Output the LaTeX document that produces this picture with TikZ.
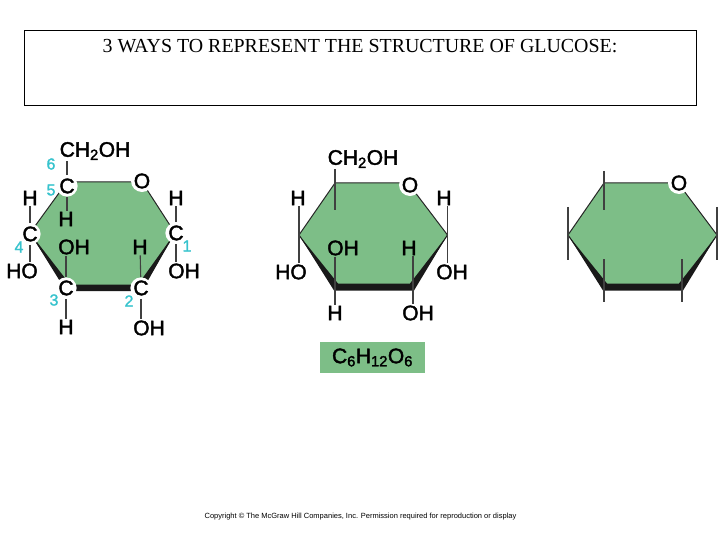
\documentclass[tikz,border=0pt]{standalone}
\usepackage{fontspec}
\setmainfont{Liberation Sans}
\newfontfamily\serifcaps{Liberation Serif}
\newfontfamily\chemfont[FakeBold=2]{Liberation Sans}
\newfontfamily\numfont[FakeBold=1.5]{Liberation Sans}
\definecolor{ringgreen}{RGB}{125,190,135}
\definecolor{numcyan}{RGB}{55,195,205}
\tikzset{
	atom/.style={font=\chemfont\fontsize{21}{21}\selectfont, inner sep=1pt},
	ringatom/.style={atom, circle, fill=white, inner sep=0pt, minimum size=19pt},
	num/.style={font=\numfont\fontsize{16}{16}\selectfont, text=numcyan, inner sep=0pt},
	ring/.style={fill=ringgreen, draw=black!85, line width=1pt},
	band/.style={fill=black!90},
	bond/.style={draw=black!75, line width=1.1pt}
}
\begin{document}
\begin{tikzpicture}[x=1pt, y=-1pt]
	\useasboundingbox (0,0) rectangle (720,540);
	% title box
	\node[draw, line width=0.8pt, minimum width=672pt, minimum height=75pt, inner sep=0pt](Box) at (360,67.5){};
	\node[font=\serifcaps\fontsize{19.9}{20}\selectfont, inner sep=0pt](Title) at (360,46){3 WAYS TO REPRESENT THE STRUCTURE OF GLUCOSE:};

	% first ring, numbered carbons
	\fill[ring] (67,182) -- (142,182) -- (175,233) -- (141,288) -- (67,288) -- (30,233) -- cycle;
	\fill[band] (30,233) -- (66,291) -- (142,291) -- (175,233) -- (138,284.5) -- (70,284.5) -- cycle;
	\node[ringatom](C5) at (67,186){C};
	\node[ringatom](O1) at (142,181){O};
	\node[ringatom](C1) at (176,233){C};
	\node[ringatom](C2) at (141,288){C};
	\node[ringatom](C3) at (66,288){C};
	\node[ringatom](C4) at (30,234){C};
	\node[atom](CH1) at (95,151){CH\textsubscript{2}OH};
	\node[atom](H5) at (66,219){H};
	\node[atom](H4) at (30,198){H};
	\node[atom](HO4) at (22,271){HO};
	\node[atom](OH3) at (74,247){OH};
	\node[atom](H3) at (66,327){H};
	\node[atom](H2) at (140,247){H};
	\node[atom](OH2) at (149,328){OH};
	\node[atom](H1) at (176,198){H};
	\node[atom](OH1) at (184,271){OH};
	\node[num](N6) at (51,164){6};
	\node[num](N5) at (51,190){5};
	\node[num](N4) at (19,247){4};
	\node[num](N3) at (54,300){3};
	\node[num](N2) at (129,301){2};
	\node[num](N1) at (187,246){1};
	\draw[bond] (C5) -- (C5 |- CH1.south);
	\draw[bond] (C5) -- (C5 |- H5.north);
	\draw[bond] (C4) -- (C4 |- H4.south);
	\draw[bond] (C4) -- (C4 |- HO4.north);
	\draw[bond] (C3) -- (C3 |- OH3.south);
	\draw[bond] (C3) -- (H3);
	\draw[bond] (C2) -- (H2);
	\draw[bond] (C2) -- (C2 |- OH2.north);
	\draw[bond] (C1) -- (H1);
	\draw[bond] (C1) -- (C1 |- OH1.north);

	% second ring
	\coordinate (A5) at (335,183);
	\coordinate (A4) at (299,235);
	\coordinate (A3) at (335,287);
	\coordinate (A2) at (413,287);
	\coordinate (A1) at (447.5,235);
	\fill[ring] (A5) -- (408,183) -- (A1) -- (A2) -- (A3) -- (A4) -- cycle;
	\fill[band] (A4) -- (334,290.5) -- (414,290.5) -- (A1) -- (410,283.5) -- (338,283.5) -- cycle;
	\node[ringatom](O2) at (410,185){O};
	\node[atom](CHb) at (363,159){CH\textsubscript{2}OH};
	\node[atom](Hb4) at (298,198){H};
	\node[atom](HOb) at (291,272){HO};
	\node[atom](OHb3) at (343,248){OH};
	\node[atom](Hb3) at (335,313){H};
	\node[atom](Hb2) at (409,248){H};
	\node[atom](OHb2) at (418,313){OH};
	\node[atom](Hb1) at (444,198){H};
	\node[atom](OHb1) at (452,272){OH};
	\coordinate (A5in) at (335,210);
	\draw[bond] (A5 |- CHb.south) -- (A5in);
	\draw[bond] (A4 |- Hb4.south) -- (A4 |- HOb.north);
	\draw[bond] (A3 |- OHb3.south) -- (A3 |- Hb3.north);
	\draw[bond] (A2 |- Hb2.south) -- (A2 |- OHb2.north);
	\draw[bond] (A1 |- Hb1.south) -- (A1 |- OHb1.north);

	% third ring, no labels but the oxygen
	\coordinate (D5) at (604,183);
	\coordinate (D4) at (568,235);
	\coordinate (D3) at (604,287);
	\coordinate (D2) at (682,287);
	\coordinate (D1) at (717,235);
	\fill[ring] (D5) -- (678,183) -- (D1) -- (D2) -- (D3) -- (D4) -- cycle;
	\fill[band] (D4) -- (603,290.5) -- (683,290.5) -- (D1) -- (679,283.5) -- (607,283.5) -- cycle;
	\node[ringatom](O3) at (679,183){O};
	\coordinate (D5a) at (604,171);
	\coordinate (D5b) at (604,210);
	\coordinate (D4a) at (568,207);
	\coordinate (D4b) at (568,260);
	\coordinate (D3a) at (604,259);
	\coordinate (D3b) at (604,302);
	\coordinate (D2a) at (682,259);
	\coordinate (D2b) at (682,302);
	\coordinate (D1a) at (717,207);
	\coordinate (D1b) at (717,260);
	\draw[bond] (D5a) -- (D5b);
	\draw[bond] (D4a) -- (D4b);
	\draw[bond] (D3a) -- (D3b);
	\draw[bond] (D2a) -- (D2b);
	\draw[bond] (D1a) -- (D1b);

	% formula and footer
	\node[atom, fill=ringgreen, minimum width=105pt, minimum height=31pt, inner sep=0pt](Formula) at (372.5,357.5){C\textsubscript{6}H\textsubscript{12}O\textsubscript{6}};
	\node[font=\fontsize{7.5}{7.5}\selectfont, inner sep=0pt](Copy) at (360.5,517){Copyright © The McGraw Hill Companies, Inc. Permission required for reproduction or display};
\end{tikzpicture}
\end{document}
